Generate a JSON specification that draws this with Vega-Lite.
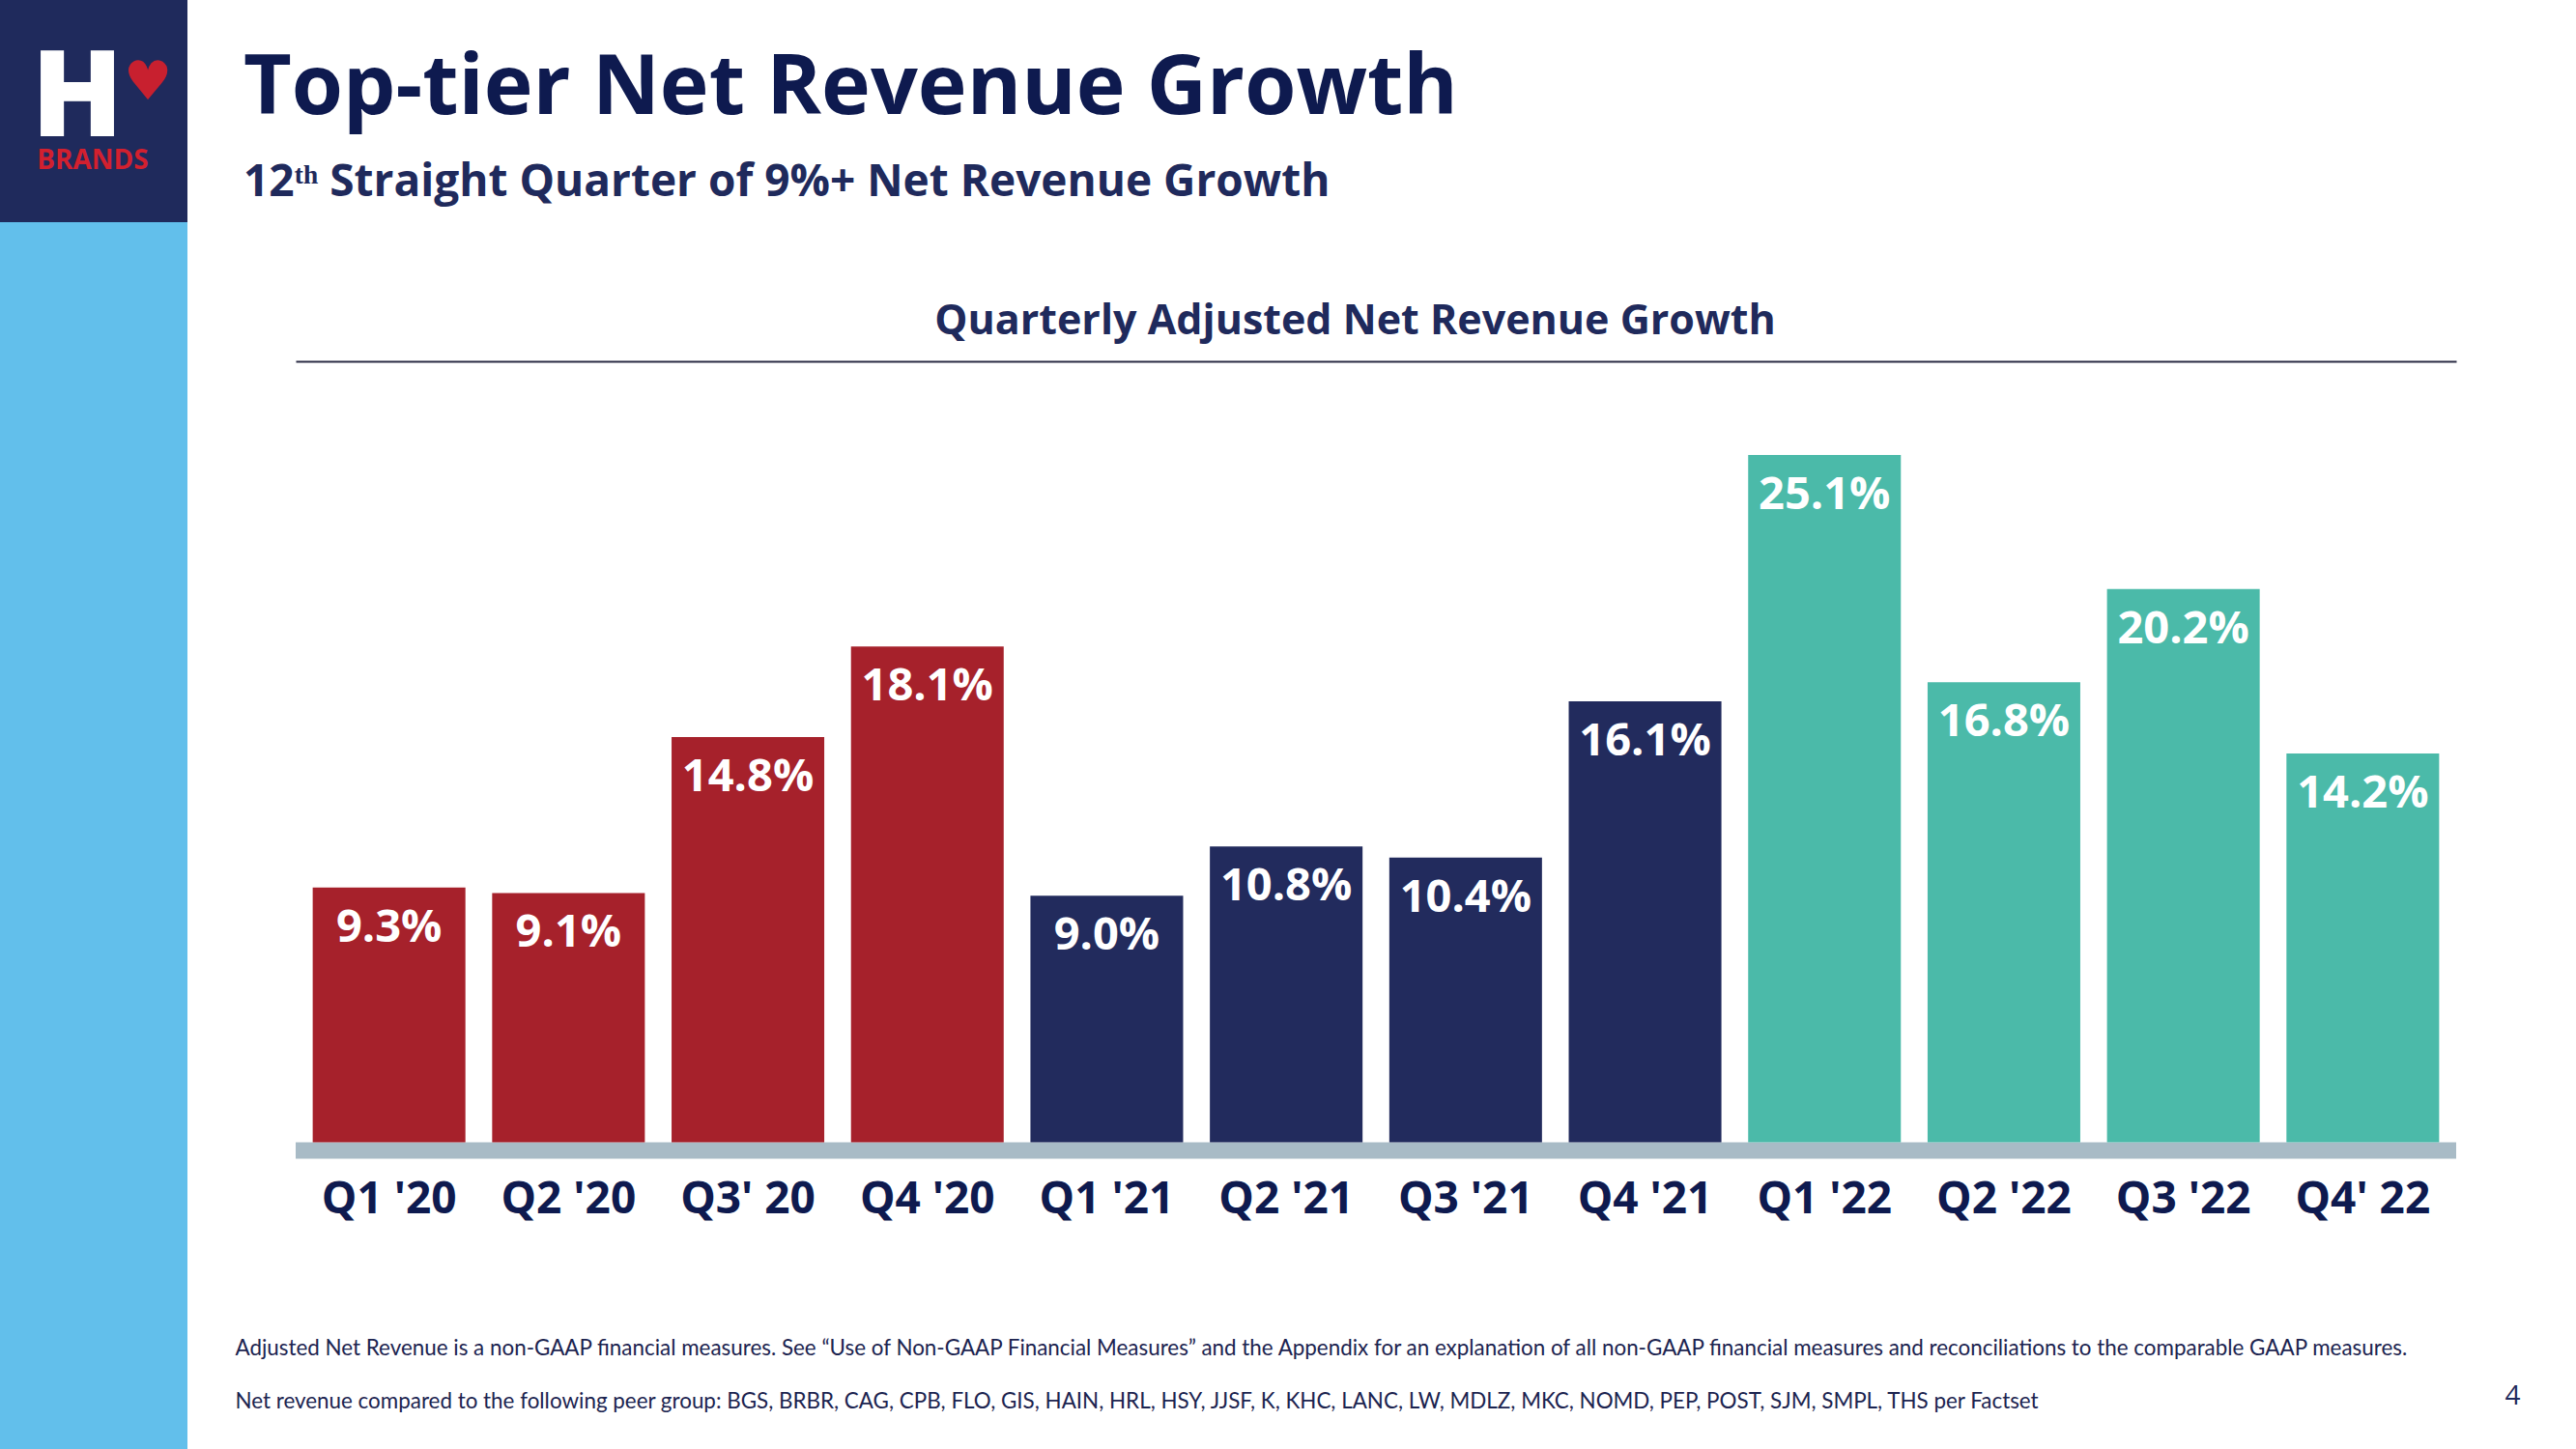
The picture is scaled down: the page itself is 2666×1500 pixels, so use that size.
{
  "$schema": "https://vega.github.io/schema/vega-lite/v6.json",
  "background": "white",
  "padding": 0,
  "bounds": "flush",
  "spacing": 306,
  "config": {"view": {"stroke": null}, "font": "Open Sans"},
  "hconcat": [
    {
      "spacing": 0,
      "vconcat": [
        {
          "width": 194,
          "height": 230,
          "view": {"fill": "#1f2a5c", "stroke": null},
          "data": {"values": [{}]},
          "layer": [
            {"mark": {"type": "text", "text": "H", "font": "Open Sans", "fontWeight": 800, "fontSize": 124, "fill": "#ffffff", "baseline": "alphabetic", "align": "center", "dx": -17, "dy": 26}, "encoding": {}},
            {"mark": {"type": "text", "text": "♥", "font": "DejaVu Sans", "fontSize": 56, "fill": "#c8202f", "baseline": "middle", "align": "center", "dx": 56, "dy": -29}, "encoding": {}},
            {"mark": {"type": "text", "text": "BRANDS", "font": "Open Sans", "fontWeight": 700, "fontSize": 28, "fill": "#d2202f", "baseline": "alphabetic", "align": "center", "dx": -1, "dy": 60}, "encoding": {}}
          ]
        },
        {
          "width": 194,
          "height": 1270,
          "view": {"fill": "#62bfeb", "stroke": null},
          "data": {"values": [{}]},
          "mark": {"type": "text", "text": ""},
          "encoding": {}
        }
      ]
    },
    {
      "width": 2236,
      "height": 1500,
      "title": {
        "text": "Top-tier Net Revenue Growth",
        "subtitle": "12ᵗʰ Straight Quarter of 9%+ Net Revenue Growth",
        "anchor": "start",
        "frame": "group",
        "orient": "top",
        "offset": -213,
        "dx": -54,
        "font": "Open Sans",
        "fontSize": 86,
        "fontWeight": 700,
        "color": "#0e1a4f",
        "subtitleFont": "Open Sans",
        "subtitleFontSize": 46,
        "subtitleFontWeight": 700,
        "subtitleColor": "#1f2a5c",
        "subtitlePadding": 31
      },
      "data": {
        "values": [
          {"quarter": "Q1 '20", "growth": 0.093, "year": "2020"},
          {"quarter": "Q2 '20", "growth": 0.091, "year": "2020"},
          {"quarter": "Q3' 20", "growth": 0.148, "year": "2020"},
          {"quarter": "Q4 '20", "growth": 0.181, "year": "2020"},
          {"quarter": "Q1 '21", "growth": 0.090, "year": "2021"},
          {"quarter": "Q2 '21", "growth": 0.108, "year": "2021"},
          {"quarter": "Q3 '21", "growth": 0.104, "year": "2021"},
          {"quarter": "Q4 '21", "growth": 0.161, "year": "2021"},
          {"quarter": "Q1 '22", "growth": 0.251, "year": "2022"},
          {"quarter": "Q2 '22", "growth": 0.168, "year": "2022"},
          {"quarter": "Q3 '22", "growth": 0.202, "year": "2022"},
          {"quarter": "Q4' 22", "growth": 0.142, "year": "2022"}
        ]
      },
      "resolve": {"axis": {"x": "independent"}},
      "layer": [
        {
          "data": {"values": [{}]},
          "mark": {"type": "rect", "fill": "#a8bbc6"},
          "encoding": {
            "y": {"datum": 0, "type": "quantitative", "scale": {"domain": [-0.112, 0.4171], "nice": false, "zero": false}},
            "y2": {"datum": -0.006}
          }
        },
        {
          "mark": {"type": "bar"},
          "encoding": {
            "x": {
              "field": "quarter", "type": "nominal", "sort": null,
              "scale": {"paddingInner": 0.149, "paddingOuter": 0.095},
              "axis": {
                "orient": "bottom", "offset": -318, "domain": false, "ticks": false, "tickSize": 0,
                "labelPadding": 73, "labelBaseline": "alphabetic", "labelAngle": 0,
                "labelFont": "Open Sans", "labelFontSize": 46, "labelFontWeight": 700, "labelColor": "#0e1a4f",
                "title": [
                  "Adjusted Net Revenue is a non-GAAP financial measures. See “Use of Non-GAAP Financial Measures” and the Appendix for an explanation of all non-GAAP financial measures and reconciliations to the comparable GAAP measures.",
                  "Net revenue compared to the following peer group: BGS, BRBR, CAG, CPB, FLO, GIS, HAIN, HRL, HSY, JJSF, K, KHC, LANC, LW, MDLZ, MKC, NOMD, PEP, POST, SJM, SMPL, THS per Factset"
                ],
                "titleFont": "Lato", "titleFontSize": 22.4, "titleFontWeight": 400, "titleColor": "#1c2450",
                "titleAnchor": "start", "titleAlign": "left", "titleX": -63, "titleY": 220,
                "titleBaseline": "alphabetic", "titleLineHeight": 55
              }
            },
            "y": {
              "field": "growth", "type": "quantitative",
              "scale": {"domain": [-0.112, 0.4171], "nice": false, "zero": false},
              "axis": {
                "orient": "right", "labels": false, "ticks": false, "domain": false, "grid": false,
                "title": "4", "titleAngle": 0, "titleX": 58, "titleY": 1453, "titleAlign": "center",
                "titleBaseline": "alphabetic", "titleFont": "Open Sans", "titleFontSize": 28,
                "titleFontWeight": 400, "titleColor": "#1f2a5c"
              }
            },
            "color": {
              "field": "year", "type": "nominal",
              "scale": {"domain": ["2020", "2021", "2022"], "range": ["#a6212b", "#222b5d", "#4bbaa9"]},
              "legend": null
            }
          }
        },
        {
          "mark": {"type": "text", "font": "Open Sans", "fontSize": 47, "fontWeight": 700, "fill": "#ffffff", "baseline": "alphabetic", "align": "center", "dy": 56},
          "encoding": {
            "x": {
              "field": "quarter", "type": "nominal", "sort": null,
              "scale": {"paddingInner": 0.149, "paddingOuter": 0.095},
              "axis": {
                "orient": "top", "offset": -374, "labels": false, "ticks": false, "grid": false,
                "domain": true, "domainColor": "#2b2d45", "domainWidth": 2,
                "title": "Quarterly Adjusted Net Revenue Growth",
                "titleFont": "Open Sans", "titleFontSize": 43, "titleFontWeight": 700, "titleColor": "#1f2a5c",
                "titleX": 1096, "titleY": -29, "titleAlign": "center", "titleBaseline": "alphabetic"
              }
            },
            "y": {
              "field": "growth", "type": "quantitative",
              "scale": {"domain": [-0.112, 0.4171], "nice": false, "zero": false},
              "axis": {
                "orient": "right", "labels": false, "ticks": false, "domain": false, "grid": false,
                "title": "4", "titleAngle": 0, "titleX": 58, "titleY": 1453, "titleAlign": "center",
                "titleBaseline": "alphabetic", "titleFont": "Open Sans", "titleFontSize": 28,
                "titleFontWeight": 400, "titleColor": "#1f2a5c"
              }
            },
            "text": {"field": "growth", "type": "quantitative", "format": ".1%"}
          }
        }
      ]
    }
  ]
}
